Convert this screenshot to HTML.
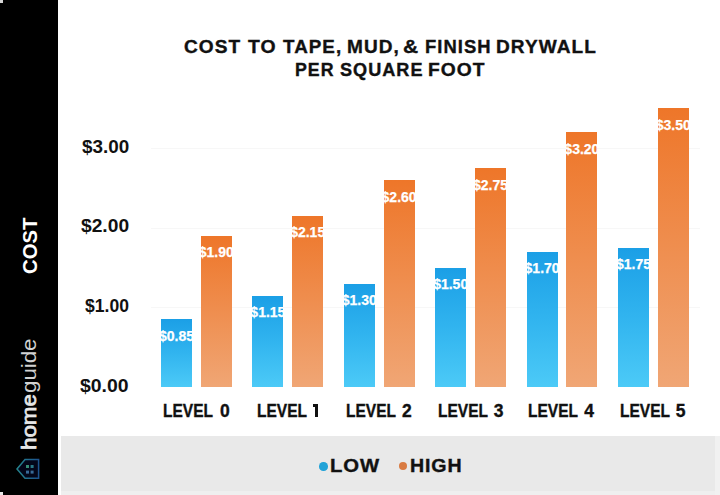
<!DOCTYPE html>
<html><head><meta charset="utf-8">
<style>
html,body{margin:0;padding:0;}
body{width:720px;height:495px;position:relative;overflow:hidden;background:#fff;font-family:"Liberation Sans",sans-serif;}
.side{position:absolute;left:0;top:0;width:58px;height:495px;background:#000;}
.legend{position:absolute;left:61px;top:436.3px;width:659px;height:59px;background:#e9e9e9;}
.legend:after{content:"";position:absolute;right:0;top:0;width:5px;height:59px;background:#f1f1f1;}
.legend:before{content:"";position:absolute;left:0;bottom:0;width:659px;height:4px;background:#efefef;}
.t{position:absolute;white-space:nowrap;line-height:1;transform-origin:0 0;-webkit-text-stroke:0.35px currentColor;}
.grid{position:absolute;left:151px;width:549px;height:1px;background:#f7f7f7;}
.bar{position:absolute;overflow:hidden;}
.bar span{position:absolute;left:-20px;right:-20px;top:9.6px;text-align:center;color:#fff;font-weight:bold;font-size:14px;line-height:14px;-webkit-text-stroke:0.25px #fff;}
.b{background:linear-gradient(#1b9fe6,#31b4ef 50%,#4ccaf7);}
.o{background:linear-gradient(#ee7629,#f0a675);}
.dot{position:absolute;width:8.5px;height:8.5px;border-radius:50%;}
</style></head><body>
<div class="side"></div>
<div style="position:absolute;left:0;top:0;width:3px;height:3px;background:#d6d6d6"></div>
<div style="position:absolute;left:0;top:492px;width:3px;height:3px;background:#e6e6e6"></div>
<div class="legend"></div>
<div class="grid" style="top:148px"></div>
<div class="grid" style="top:228px"></div>
<div class="grid" style="top:307px"></div>
<div class="bar b" style="left:161.00px;top:319.45px;width:31.0px;height:67.75px"><span>$0.85</span></div><div class="bar o" style="left:200.80px;top:235.77px;width:31.0px;height:151.43px"><span>$1.90</span></div><div class="bar b" style="left:252.40px;top:295.54px;width:31.0px;height:91.66px"><span>$1.15</span></div><div class="bar o" style="left:292.20px;top:215.84px;width:31.0px;height:171.35px"><span>$2.15</span></div><div class="bar b" style="left:343.80px;top:283.59px;width:31.0px;height:103.61px"><span>$1.30</span></div><div class="bar o" style="left:383.60px;top:179.98px;width:31.0px;height:207.22px"><span>$2.60</span></div><div class="bar b" style="left:435.20px;top:267.65px;width:31.0px;height:119.55px"><span>$1.50</span></div><div class="bar o" style="left:475.00px;top:168.02px;width:31.0px;height:219.18px"><span>$2.75</span></div><div class="bar b" style="left:526.60px;top:251.71px;width:31.0px;height:135.49px"><span>$1.70</span></div><div class="bar o" style="left:566.40px;top:132.16px;width:31.0px;height:255.04px"><span>$3.20</span></div><div class="bar b" style="left:618.00px;top:247.72px;width:31.0px;height:139.47px"><span>$1.75</span></div><div class="bar o" style="left:657.80px;top:108.25px;width:31.0px;height:278.95px"><span>$3.50</span></div>
<span class="t" style="left:184.41px;top:37.95px;font-size:18px;font-weight:700;color:#111;letter-spacing:1.0px;-webkit-text-stroke:0.35px currentColor;transform:scaleX(1.0596)">COST</span><span class="t" style="left:248.48px;top:37.95px;font-size:18px;font-weight:700;color:#111;letter-spacing:1.0px;-webkit-text-stroke:0.35px currentColor;transform:scaleX(1.0768)">TO</span><span class="t" style="left:283.04px;top:37.95px;font-size:18px;font-weight:700;color:#111;letter-spacing:1.0px;-webkit-text-stroke:0.35px currentColor;transform:scaleX(1.0452)">TAPE,</span><span class="t" style="left:346.58px;top:37.95px;font-size:18px;font-weight:700;color:#111;letter-spacing:1.0px;-webkit-text-stroke:0.35px currentColor;transform:scaleX(1.0559)">MUD,</span><span class="t" style="left:403.33px;top:37.95px;font-size:18px;font-weight:700;color:#111;letter-spacing:1.0px;-webkit-text-stroke:0.35px currentColor;transform:scaleX(1.1660)">&amp;</span><span class="t" style="left:424.52px;top:37.95px;font-size:18px;font-weight:700;color:#111;letter-spacing:1.0px;-webkit-text-stroke:0.35px currentColor;transform:scaleX(1.0236)">FINISH</span><span class="t" style="left:496.18px;top:37.95px;font-size:18px;font-weight:700;color:#111;letter-spacing:1.0px;-webkit-text-stroke:0.35px currentColor;transform:scaleX(1.0584)">DRYWALL</span><span class="t" style="left:294.57px;top:60.55px;font-size:18px;font-weight:700;color:#111;letter-spacing:1.0px;-webkit-text-stroke:0.35px currentColor;transform:scaleX(0.9852)">PER</span><span class="t" style="left:339.50px;top:60.55px;font-size:18px;font-weight:700;color:#111;letter-spacing:1.0px;-webkit-text-stroke:0.35px currentColor;transform:scaleX(1.0062)">SQUARE</span><span class="t" style="left:428.27px;top:60.55px;font-size:18px;font-weight:700;color:#111;letter-spacing:1.0px;-webkit-text-stroke:0.35px currentColor;transform:scaleX(1.0680)">FOOT</span><span class="t" style="left:81.54px;top:137.95px;font-size:18px;font-weight:700;color:#111;letter-spacing:0.0px;-webkit-text-stroke:0px currentColor;transform:scaleX(1.0477)">$3.00</span><span class="t" style="left:80.98px;top:217.15px;font-size:18px;font-weight:700;color:#111;letter-spacing:0.0px;-webkit-text-stroke:0px currentColor;transform:scaleX(1.0670)">$2.00</span><span class="t" style="left:84.76px;top:297.45px;font-size:18px;font-weight:700;color:#111;letter-spacing:0.0px;-webkit-text-stroke:0px currentColor;transform:scaleX(0.9750)">$1.00</span><span class="t" style="left:80.13px;top:377.35px;font-size:18px;font-weight:700;color:#111;letter-spacing:0.0px;-webkit-text-stroke:0px currentColor;transform:scaleX(1.0795)">$0.00</span><span class="t" style="left:162.99px;top:403.10px;font-size:17.5px;font-weight:700;color:#111;letter-spacing:0.0px;-webkit-text-stroke:0.35px currentColor;transform:scaleX(0.8862)">LEVEL</span><span class="t" style="left:256.69px;top:403.10px;font-size:17.5px;font-weight:700;color:#111;letter-spacing:0.0px;-webkit-text-stroke:0.35px currentColor;transform:scaleX(0.8862)">LEVEL</span><span class="t" style="left:346.09px;top:403.10px;font-size:17.5px;font-weight:700;color:#111;letter-spacing:0.0px;-webkit-text-stroke:0.35px currentColor;transform:scaleX(0.8862)">LEVEL</span><span class="t" style="left:437.79px;top:403.10px;font-size:17.5px;font-weight:700;color:#111;letter-spacing:0.0px;-webkit-text-stroke:0.35px currentColor;transform:scaleX(0.8862)">LEVEL</span><span class="t" style="left:527.79px;top:403.10px;font-size:17.5px;font-weight:700;color:#111;letter-spacing:0.0px;-webkit-text-stroke:0.35px currentColor;transform:scaleX(0.8862)">LEVEL</span><span class="t" style="left:619.89px;top:403.10px;font-size:17.5px;font-weight:700;color:#111;letter-spacing:0.0px;-webkit-text-stroke:0.35px currentColor;transform:scaleX(0.8862)">LEVEL</span><span class="t" style="left:330.29px;top:457.05px;font-size:18px;font-weight:700;color:#111;letter-spacing:0.8px;-webkit-text-stroke:0.35px currentColor;transform:scaleX(1.1263)">LOW</span><span class="t" style="left:410.34px;top:457.05px;font-size:18px;font-weight:700;color:#111;letter-spacing:0.8px;-webkit-text-stroke:0.35px currentColor;transform:scaleX(1.0891)">HIGH</span><span class="t" style="left:220.10px;top:403.10px;font-size:17.5px;font-weight:700;color:#111;-webkit-text-stroke:0.35px currentColor;transform:scaleX(1.0000)">0</span><div style="position:absolute;left:314.50px;top:404.3px;width:3.3px;height:13.1px;background:#111"></div><div style="position:absolute;left:312.90px;top:404.3px;width:3px;height:2.6px;background:#111"></div><span class="t" style="left:402.10px;top:403.10px;font-size:17.5px;font-weight:700;color:#111;-webkit-text-stroke:0.35px currentColor;transform:scaleX(1.0000)">2</span><span class="t" style="left:493.80px;top:403.10px;font-size:17.5px;font-weight:700;color:#111;-webkit-text-stroke:0.35px currentColor;transform:scaleX(1.0000)">3</span><span class="t" style="left:584.15px;top:403.10px;font-size:17.5px;font-weight:700;color:#111;-webkit-text-stroke:0.35px currentColor;transform:scaleX(1.0000)">4</span><span class="t" style="left:675.75px;top:403.10px;font-size:17.5px;font-weight:700;color:#111;-webkit-text-stroke:0.35px currentColor;transform:scaleX(1.0000)">5</span><span class="t" style="left:20.35px;top:273.76px;font-size:20px;font-weight:700;color:#fff;-webkit-text-stroke:0px currentColor;transform:rotate(-90deg) scaleX(1.0128)">COST</span><span class="t" style="left:19.30px;top:449.67px;font-size:20px;font-weight:400;color:#e6e6e6;-webkit-text-stroke:0.75px currentColor;transform:rotate(-90deg) scaleX(1.1162)">home</span><span class="t" style="left:18.90px;top:392.63px;font-size:20px;font-weight:400;color:#d2d2d2;-webkit-text-stroke:0px currentColor;transform:rotate(-90deg) scaleX(1.1132)">guide</span>
<div class="dot" style="left:319.35px;top:462.15px;background:#22a3d8"></div>
<div class="dot" style="left:398.55px;top:461.85px;background:#d97b42"></div>
<svg style="position:absolute;left:0;top:0" width="720" height="495">
<defs><linearGradient id="hg" x1="0" y1="0" x2="1" y2="0"><stop offset="0" stop-color="#25848c"/><stop offset="1" stop-color="#1d528e"/></linearGradient></defs>
<path d="M17 469 L25 459.6 L38.6 459.6 L38.6 478.2 L25 478.2 Z" fill="#03061a" stroke="url(#hg)" stroke-width="1.5"/>
<rect x="26" y="465" width="3" height="3" fill="#368e76"/>
<rect x="30.6" y="465" width="3" height="3" fill="#2a7888"/>
<rect x="26" y="470.6" width="3" height="3" fill="#386a98"/>
<rect x="30.6" y="470.6" width="3" height="3" fill="#386a98"/>
</svg>
</body></html>
